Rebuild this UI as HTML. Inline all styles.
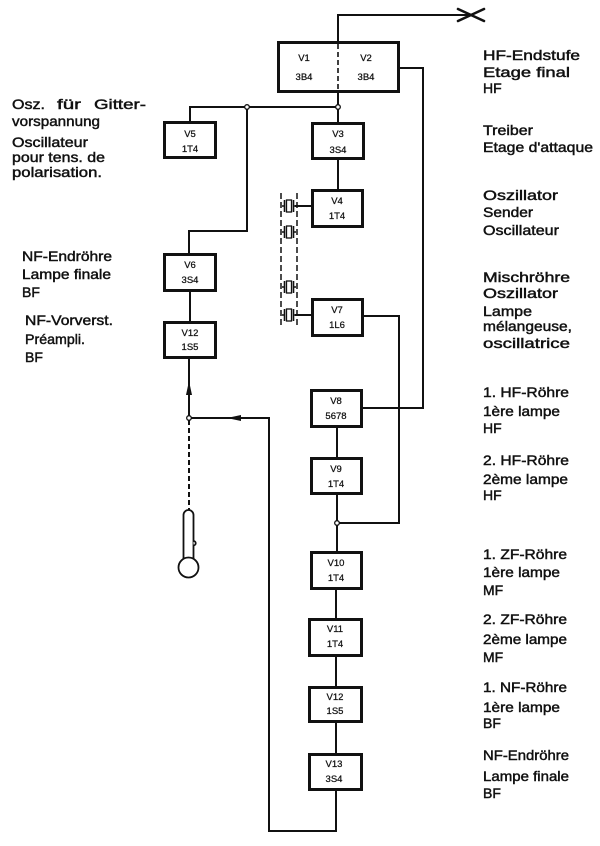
<!DOCTYPE html>
<html>
<head>
<meta charset="utf-8">
<style>
  html,body{margin:0;padding:0;background:#fff;}
  svg{display:block;}
  .t{font-family:"Liberation Sans",sans-serif;font-size:14px;fill:#111;stroke:#111;stroke-width:0.45px;}
  .b{font-family:"Liberation Sans",sans-serif;font-size:9.5px;fill:#111;stroke:#111;stroke-width:0.25px;text-anchor:middle;}
</style>
</head>
<body>
<svg width="600" height="846" viewBox="0 0 600 846" xmlns="http://www.w3.org/2000/svg">
  <rect width="600" height="846" fill="#fff"/>

  <!-- connectors -->
  <g stroke="#111" stroke-width="2" fill="none">
    <polyline points="338,41 338,15 470,15"/>
    <line x1="338" y1="93" x2="338" y2="122"/>
    <polyline points="190,121 190,107 338,107"/>
    <polyline points="247,107 247,231 189,231 189,253"/>
    <line x1="190" y1="292" x2="190" y2="321"/>
    <line x1="189" y1="359" x2="189" y2="418"/>
    <polyline points="189,418 269,418 269,831 336,831 336,791"/>
    <polyline points="400,68 423,68 423,408 363,408"/>
    <line x1="338" y1="160" x2="338" y2="189"/>
    <polyline points="364,316 399,316 399,523 337,523"/>
    <line x1="337" y1="428" x2="337" y2="457"/>
    <line x1="337" y1="495" x2="337" y2="551"/>
    <line x1="336" y1="590" x2="336" y2="618"/>
    <line x1="336" y1="657" x2="336" y2="686"/>
    <line x1="336" y1="723" x2="336" y2="753"/>
    <line x1="295" y1="206" x2="311" y2="206"/>
    <line x1="295" y1="315" x2="311" y2="315"/>
  </g>

  <!-- dashed lines -->
  <g stroke="#111" fill="none">
    <line x1="189" y1="420" x2="189" y2="510" stroke-width="2" stroke-dasharray="5,3"/>
    <line x1="281" y1="193" x2="281" y2="328" stroke-width="1.5" stroke-dasharray="6,3"/>
    <line x1="297" y1="193" x2="297" y2="328" stroke-width="1.5" stroke-dasharray="6,3"/>
  </g>

  <!-- antenna X -->
  <g stroke="#111" stroke-width="2.6" stroke-linecap="round">
    <line x1="458" y1="9" x2="484" y2="21"/>
    <line x1="458" y1="21" x2="484" y2="9"/>
  </g>

  <!-- arrows -->
  <polygon points="189,381 186,395 192,395" fill="#111"/>
  <polygon points="227,418 241,415 241,421" fill="#111"/>

  <!-- crystals -->
  <g stroke="#111" fill="#fff">
    <g transform="translate(0,206)">
      <line x1="282" y1="0" x2="284.5" y2="0" stroke-width="1.5"/>
      <line x1="284.5" y1="-6" x2="284.5" y2="6" stroke-width="1.6"/>
      <rect x="286.5" y="-6" width="5" height="12" stroke-width="1.3"/>
      <line x1="293.5" y1="-6" x2="293.5" y2="6" stroke-width="1.6"/>
      <line x1="293.5" y1="0" x2="296" y2="0" stroke-width="1.5"/>
    </g>
    <g transform="translate(0,232)">
      <line x1="282" y1="0" x2="284.5" y2="0" stroke-width="1.5"/>
      <line x1="284.5" y1="-6" x2="284.5" y2="6" stroke-width="1.6"/>
      <rect x="286.5" y="-6" width="5" height="12" stroke-width="1.3"/>
      <line x1="293.5" y1="-6" x2="293.5" y2="6" stroke-width="1.6"/>
      <line x1="293.5" y1="0" x2="296" y2="0" stroke-width="1.5"/>
    </g>
    <g transform="translate(0,287)">
      <line x1="282" y1="0" x2="284.5" y2="0" stroke-width="1.5"/>
      <line x1="284.5" y1="-6" x2="284.5" y2="6" stroke-width="1.6"/>
      <rect x="286.5" y="-6" width="5" height="12" stroke-width="1.3"/>
      <line x1="293.5" y1="-6" x2="293.5" y2="6" stroke-width="1.6"/>
      <line x1="293.5" y1="0" x2="296" y2="0" stroke-width="1.5"/>
    </g>
    <g transform="translate(0,315)">
      <line x1="282" y1="0" x2="284.5" y2="0" stroke-width="1.5"/>
      <line x1="284.5" y1="-6" x2="284.5" y2="6" stroke-width="1.6"/>
      <rect x="286.5" y="-6" width="5" height="12" stroke-width="1.3"/>
      <line x1="293.5" y1="-6" x2="293.5" y2="6" stroke-width="1.6"/>
      <line x1="293.5" y1="0" x2="296" y2="0" stroke-width="1.5"/>
    </g>
  </g>

  <!-- microphone -->
  <g stroke="#111" stroke-width="1.8" fill="#fff">
    <path d="M183.5,559 L183.5,515 A5,5 0 0 1 193.5,515 L193.5,559"/>
    <path d="M193.5,541 A2.2,2.2 0 0 1 193.5,545.4"/>
    <circle cx="188.5" cy="567.5" r="10"/>
  </g>

  <!-- boxes -->
  <g stroke="#111" stroke-width="3" fill="#fff">
    <rect x="278.5" y="42.5" width="120" height="49"/>
    <rect x="164.5" y="122.5" width="51" height="35"/>
    <rect x="312.5" y="123.5" width="51" height="35"/>
    <rect x="312.5" y="190.5" width="50" height="36"/>
    <rect x="164.5" y="254.5" width="51" height="36"/>
    <rect x="164.5" y="322.5" width="51" height="35"/>
    <rect x="312.5" y="299.5" width="50" height="36"/>
    <rect x="311.5" y="390.5" width="50" height="36"/>
    <rect x="311.5" y="458.5" width="50" height="35"/>
    <rect x="311.5" y="552.5" width="50" height="36"/>
    <rect x="309.5" y="619.5" width="52" height="36"/>
    <rect x="309.5" y="687.5" width="52" height="34"/>
    <rect x="309.5" y="754.5" width="52" height="35"/>
  </g>
  <line x1="338" y1="44" x2="338" y2="91" stroke="#111" stroke-width="1.6" stroke-dasharray="5,3"/>

  <!-- junction dots -->
  <g stroke="#111" stroke-width="1.3" fill="#fff">
    <circle cx="338" cy="107" r="2.3"/>
    <circle cx="247" cy="107" r="2.3"/>
    <circle cx="189" cy="418" r="2.3"/>
    <circle cx="337" cy="523" r="2.3"/>
  </g>

  <!-- box labels -->
  <g class="b">
    <text x="304" y="61">V1</text><text x="304" y="80">3B4</text>
    <text x="366" y="61">V2</text><text x="366" y="80">3B4</text>
    <text x="190" y="137">V5</text><text x="190" y="152">1T4</text>
    <text x="338" y="137">V3</text><text x="338" y="153">3S4</text>
    <text x="337" y="204">V4</text><text x="337" y="219">1T4</text>
    <text x="190" y="268">V6</text><text x="190" y="283">3S4</text>
    <text x="190" y="336">V12</text><text x="190" y="350">1S5</text>
    <text x="337" y="313">V7</text><text x="337" y="328">1L6</text>
    <text x="336" y="404">V8</text><text x="336" y="419">5678</text>
    <text x="336" y="472">V9</text><text x="336" y="487">1T4</text>
    <text x="336" y="566">V10</text><text x="336" y="581">1T4</text>
    <text x="335" y="632">V11</text><text x="335" y="647">1T4</text>
    <text x="335" y="700">V12</text><text x="335" y="714">1S5</text>
    <text x="334" y="767">V13</text><text x="334" y="782">3S4</text>
  </g>

  <!-- left texts -->
  <g class="t">
    <text x="12" y="109" textLength="33" lengthAdjust="spacingAndGlyphs">Osz.</text>
    <text x="57" y="109" textLength="24" lengthAdjust="spacingAndGlyphs">für</text>
    <text x="94" y="109" textLength="52" lengthAdjust="spacingAndGlyphs">Gitter-</text>
    <text x="12" y="126" textLength="88" lengthAdjust="spacingAndGlyphs">vorspannung</text>
    <text x="12" y="147" textLength="76" lengthAdjust="spacingAndGlyphs">Oscillateur</text>
    <text x="12" y="162" textLength="93" lengthAdjust="spacingAndGlyphs">pour tens. de</text>
    <text x="12" y="177" textLength="90" lengthAdjust="spacingAndGlyphs">polarisation.</text>

    <text x="22" y="261" textLength="90" lengthAdjust="spacingAndGlyphs">NF-Endröhre</text>
    <text x="22" y="279" textLength="89" lengthAdjust="spacingAndGlyphs">Lampe finale</text>
    <text x="22" y="297">BF</text>

    <text x="25" y="325" textLength="88" lengthAdjust="spacingAndGlyphs">NF-Vorverst.</text>
    <text x="25" y="344" textLength="60" lengthAdjust="spacingAndGlyphs">Préampli.</text>
    <text x="25" y="362">BF</text>
  </g>

  <!-- right texts -->
  <g class="t">
    <text x="483" y="60" textLength="97" lengthAdjust="spacingAndGlyphs">HF-Endstufe</text>
    <text x="483" y="77" textLength="87" lengthAdjust="spacingAndGlyphs">Etage final</text>
    <text x="483" y="93">HF</text>

    <text x="483" y="135" textLength="50" lengthAdjust="spacingAndGlyphs">Treiber</text>
    <text x="483" y="152" textLength="110" lengthAdjust="spacingAndGlyphs">Etage d'attaque</text>

    <text x="483" y="200" textLength="75" lengthAdjust="spacingAndGlyphs">Oszillator</text>
    <text x="483" y="217" textLength="50" lengthAdjust="spacingAndGlyphs">Sender</text>
    <text x="483" y="235" textLength="76" lengthAdjust="spacingAndGlyphs">Oscillateur</text>

    <text x="483" y="282" textLength="87" lengthAdjust="spacingAndGlyphs">Mischröhre</text>
    <text x="483" y="298" textLength="75" lengthAdjust="spacingAndGlyphs">Oszillator</text>
    <text x="483" y="316" textLength="49" lengthAdjust="spacingAndGlyphs">Lampe</text>
    <text x="483" y="331" textLength="89" lengthAdjust="spacingAndGlyphs">mélangeuse,</text>
    <text x="483" y="348" textLength="87" lengthAdjust="spacingAndGlyphs">oscillatrice</text>

    <text x="483" y="397" textLength="86" lengthAdjust="spacingAndGlyphs">1. HF-Röhre</text>
    <text x="483" y="416" textLength="77" lengthAdjust="spacingAndGlyphs">1ère lampe</text>
    <text x="483" y="433">HF</text>

    <text x="483" y="465" textLength="86" lengthAdjust="spacingAndGlyphs">2. HF-Röhre</text>
    <text x="483" y="484" textLength="85" lengthAdjust="spacingAndGlyphs">2ème lampe</text>
    <text x="483" y="500">HF</text>

    <text x="483" y="559" textLength="84" lengthAdjust="spacingAndGlyphs">1. ZF-Röhre</text>
    <text x="483" y="577" textLength="77" lengthAdjust="spacingAndGlyphs">1ère lampe</text>
    <text x="483" y="595">MF</text>

    <text x="483" y="624" textLength="84" lengthAdjust="spacingAndGlyphs">2. ZF-Röhre</text>
    <text x="483" y="644" textLength="84" lengthAdjust="spacingAndGlyphs">2ème lampe</text>
    <text x="483" y="662">MF</text>

    <text x="483" y="692" textLength="84" lengthAdjust="spacingAndGlyphs">1. NF-Röhre</text>
    <text x="483" y="712" textLength="77" lengthAdjust="spacingAndGlyphs">1ère lampe</text>
    <text x="483" y="728">BF</text>

    <text x="483" y="760" textLength="86" lengthAdjust="spacingAndGlyphs">NF-Endröhre</text>
    <text x="483" y="781" textLength="86" lengthAdjust="spacingAndGlyphs">Lampe finale</text>
    <text x="483" y="798">BF</text>
  </g>
</svg>
</body>
</html>
